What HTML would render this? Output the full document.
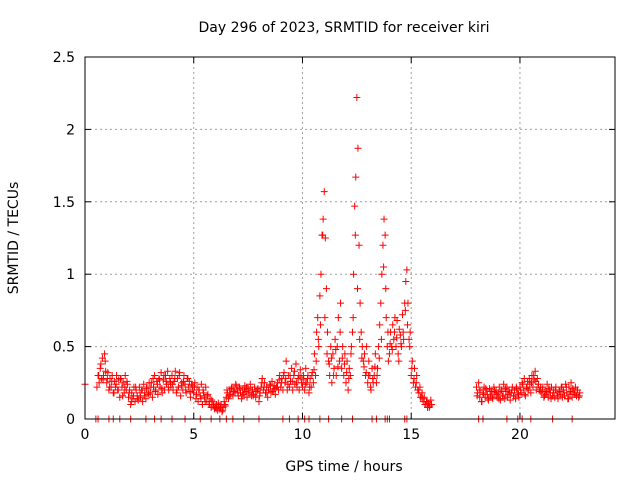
<!DOCTYPE html>
<html><head><meta charset="utf-8"><style>
body{margin:0;background:#fff}
svg{display:block;font-family:"DejaVu Sans","Liberation Sans",sans-serif}
</style></head><body>
<svg id="chart" width="640" height="480" viewBox="0 0 640 480">
<text x="344" y="32" font-size="14" text-anchor="middle">Day 296 of 2023, SRMTID for receiver kiri</text>
<text x="344" y="471" font-size="14" text-anchor="middle">GPS time / hours</text>
<text transform="translate(18,238) rotate(-90)" font-size="14" text-anchor="middle">SRMTID / TECUs</text>
<g id="grid"></g>
<g id="axes"></g>
<g id="marks"></g>
<rect x="85" y="57" width="530" height="362" fill="none" stroke="#000" stroke-width="1"/>
</svg>
<script>
const xTicks=[0,5,10,15,20];
const yTicks=[0,0.5,1,1.5,2,2.5];
const yTickLabels=["0","0.5","1","1.5","2","2.5"];
const segAStart=0, segBStart=18, step=0.05, step2=0.1;
const segAValues=[
0.24,null,null,null,null,null,null,null,null,null,null,0.22,0.3,0.25,0.35,0.28,0.42,0.3,0.45,0.33,
0.25,0.32,0.2,0.28,0.22,0.3,0.18,0.26,0.22,0.3,0.2,0.27,0.15,0.28,0.22,0.25,0.18,0.3,0.2,0.24,
0.15,0.2,0.1,0.18,0.14,0.22,0.12,0.2,0.16,0.13,0.22,0.15,0.2,0.12,0.24,0.18,0.14,0.22,0.17,0.25,
0.18,0.25,0.15,0.22,0.3,0.2,0.26,0.17,0.28,0.22,0.32,0.18,0.27,0.2,0.3,0.24,0.33,0.2,0.28,0.22,
0.3,0.2,0.26,0.33,0.18,0.28,0.22,0.32,0.16,0.25,0.2,0.3,0.24,0.18,0.28,0.22,0.26,0.15,0.24,0.2,
0.18,0.25,0.14,0.22,0.12,0.2,0.16,0.24,0.1,0.18,0.15,0.22,0.12,0.17,0.1,0.14,0.08,0.12,0.1,0.07,
0.08,0.1,0.06,0.09,0.07,0.1,0.05,0.08,0.12,0.09,0.15,0.18,0.14,0.2,0.17,0.22,0.16,0.2,0.18,0.23,
0.2,0.16,0.22,0.18,0.14,0.2,0.17,0.23,0.19,0.15,0.21,0.18,0.24,0.16,0.2,0.17,0.22,0.15,0.19,0.21,
0.12,0.18,0.22,0.28,0.2,0.25,0.18,0.22,0.15,0.2,0.24,0.18,0.26,0.2,0.23,0.17,0.22,0.25,0.2,0.3,
0.22,0.28,0.2,0.32,0.25,0.4,0.2,0.3,0.22,0.26,0.35,0.2,0.3,0.24,0.38,0.22,0.28,0.2,0.34,0.25,
0.22,0.3,0.2,0.35,0.25,0.3,0.18,0.28,0.22,0.32,0.25,0.45,0.3,0.6,0.7,0.5,0.85,1.0,1.27,1.38,
1.57,1.25,0.9,0.6,0.4,0.3,0.5,0.25,0.45,0.35,0.55,0.3,0.5,0.7,0.4,0.8,0.35,0.5,0.3,0.45,
0.25,0.4,0.2,0.35,0.3,0.5,0.6,1.0,1.47,1.67,2.22,1.87,1.2,0.8,0.6,0.5,0.4,0.45,0.3,0.5,
0.25,0.4,0.3,0.2,0.35,0.25,0.3,0.45,0.25,0.35,0.5,0.65,0.8,1.0,1.2,1.38,1.27,0.7,0.5,0.4,
0.45,0.6,0.5,0.65,0.55,0.7,0.5,0.68,0.45,0.62,0.58,0.5,0.72,0.55,0.8,0.95,1.03,0.8,0.55,0.6,
0.3,0.4,0.25,0.35,0.22,0.3,0.2,0.18,0.22,0.15,0.18,0.12,0.15,0.1,0.12,0.08,0.11,0.09,0.13,null];
const segAValues2=[
null,null,null,null,null,null,0.3,0.38,0.27,0.4,
0.28,0.22,0.26,0.18,0.24,0.2,0.28,0.16,0.22,0.26,
0.18,0.12,0.16,0.22,0.14,0.18,0.2,0.16,0.21,0.18,
0.22,0.28,0.19,0.24,0.27,0.21,0.3,0.26,0.22,0.25,
0.24,0.28,0.2,0.3,0.23,0.26,0.2,0.28,0.19,0.23,
0.22,0.17,0.2,0.14,0.2,0.12,0.16,0.1,0.13,0.09,
0.07,0.11,0.08,0.06,0.1,0.2,0.16,0.21,0.19,0.24,
0.18,0.21,0.16,0.2,0.22,0.18,0.2,0.16,0.19,0.2,
0.16,0.25,0.22,0.18,0.2,0.23,0.19,0.21,0.22,0.27,
0.25,0.3,0.28,0.24,0.3,0.26,0.33,0.25,0.3,0.29,
0.27,0.24,0.28,0.22,0.3,0.34,0.4,0.55,0.65,1.27,
0.7,0.45,0.38,0.42,0.3,0.48,0.36,0.6,0.42,0.38,
0.32,0.28,0.45,0.7,1.27,0.9,0.55,0.42,0.36,0.32,
0.3,0.22,0.28,0.36,0.3,0.42,0.55,1.05,0.9,0.6,
0.52,0.48,0.6,0.56,0.4,0.52,0.6,0.75,0.65,0.5,
0.35,0.28,0.25,0.2,0.15,0.14,0.1,0.12,0.08,0.1];
const segBValues=[
0.22,0.18,0.25,0.15,0.2,0.12,0.18,0.22,0.15,0.2,0.17,0.13,0.21,0.16,0.19,0.14,0.22,0.18,0.2,0.15,
0.18,0.22,0.13,0.2,0.16,0.24,0.14,0.19,0.22,0.17,0.2,0.13,0.18,0.22,0.16,0.2,0.14,0.21,0.18,0.15,
0.22,0.18,0.25,0.2,0.28,0.16,0.22,0.26,0.2,0.24,0.18,0.3,0.22,0.27,0.33,0.2,0.28,0.24,0.2,0.22,
0.18,0.22,0.15,0.2,0.17,0.24,0.15,0.2,0.18,0.22,0.16,0.2,0.15,0.22,0.18,0.14,0.2,0.17,0.22,0.15,
0.2,0.16,0.24,0.18,0.14,0.22,0.17,0.25,0.15,0.2,0.18,0.22,0.16,0.2,0.15,0.18];
const segBValues2=[
0.16,0.2,0.12,0.17,0.21,0.14,0.19,0.15,0.2,0.17,
0.14,0.19,0.16,0.21,0.15,0.18,0.2,0.16,0.22,0.17,
0.2,0.24,0.17,0.21,0.28,0.25,0.3,0.26,0.22,0.19,
0.2,0.16,0.19,0.21,0.14,0.18,0.2,0.16,0.19,0.22,
0.18,0.22,0.14,0.19,0.21,0.17,0.2,0.16];
const zeroTimes=[0.5,0.6,1.1,1.3,1.6,2.1,2.8,3.2,3.5,4.0,4.6,5.3,5.8,6.2,6.5,6.8,7.3,8.0,9.1,9.4,9.8,10.1,10.3,10.8,11.2,11.8,12.3,13.2,13.4,13.8,13.9,14.0,14.7,14.8,18.1,18.3,19.4,19.9,20.1,20.5,21.5,22.4];

const X0=85,X1=615,Y0=419,Y1=57,XMAX=24.37,YMAX=2.5;
const sx=v=>X0+(v/XMAX)*(X1-X0);
const sy=v=>Y0-(v/YMAX)*(Y0-Y1);
const NS="http://www.w3.org/2000/svg";
const grid=document.getElementById('grid'),axes=document.getElementById('axes'),marks=document.getElementById('marks');
function mk(tag,attrs,parent){const e=document.createElementNS(NS,tag);for(const k in attrs)e.setAttribute(k,attrs[k]);parent.appendChild(e);return e;}
xTicks.forEach(t=>{
  const x=sx(t);
  if(t>0){const g=mk('line',{x1:x,x2:x,y1:Y0,y2:Y1,stroke:'#a0a0a0','stroke-dasharray':'2,3'},grid);
  
  }
  const tk=mk('line',{x1:x,x2:x,y1:Y0,y2:Y0-6,stroke:'#000'},axes);
  
  
  const tk2=mk('line',{x1:x,x2:x,y1:Y1,y2:Y1+6,stroke:'#000'},axes);
  
  
  const l=mk('text',{x:x,y:Y0+20,'font-size':14,'text-anchor':'middle'},axes);l.textContent=String(t);
  
  
});
yTicks.forEach((t,i)=>{
  const y=sy(t);
  if(t>0&&t<YMAX){const g=mk('line',{x1:X0,x2:X1,y1:y,y2:y,stroke:'#a0a0a0','stroke-dasharray':'2,3'},grid);
  
  }
  const tk=mk('line',{x1:X0,x2:X0+6,y1:y,y2:y,stroke:'#000'},axes);
  
  
  const tk2=mk('line',{x1:X1,x2:X1-6,y1:y,y2:y,stroke:'#000'},axes);
  
  
  const l=mk('text',{x:X0-10,y:y+5,'font-size':14,'text-anchor':'end'},axes);l.textContent=yTickLabels[i];
  
  
});
function cross(t,v){
  const x=sx(t),y=sy(v);
  const p=mk('path',{d:`M${x-3.5},${y}h7M${x},${y-3.5}v7`,stroke:'#f00','stroke-width':1,fill:'none'},marks);
  
  
}
segAValues.forEach((v,i)=>{if(v!==null)cross(segAStart+i*step,v);});
segAValues2.forEach((v,i)=>{if(v!==null)cross(segAStart+0.03+i*step2,v);});
segBValues.forEach((v,i)=>{if(v!==null)cross(segBStart+i*step,v);});
segBValues2.forEach((v,i)=>{if(v!==null)cross(segBStart+0.03+i*step2,v);});
zeroTimes.forEach(t=>cross(t,0));
</script>
</body></html>
